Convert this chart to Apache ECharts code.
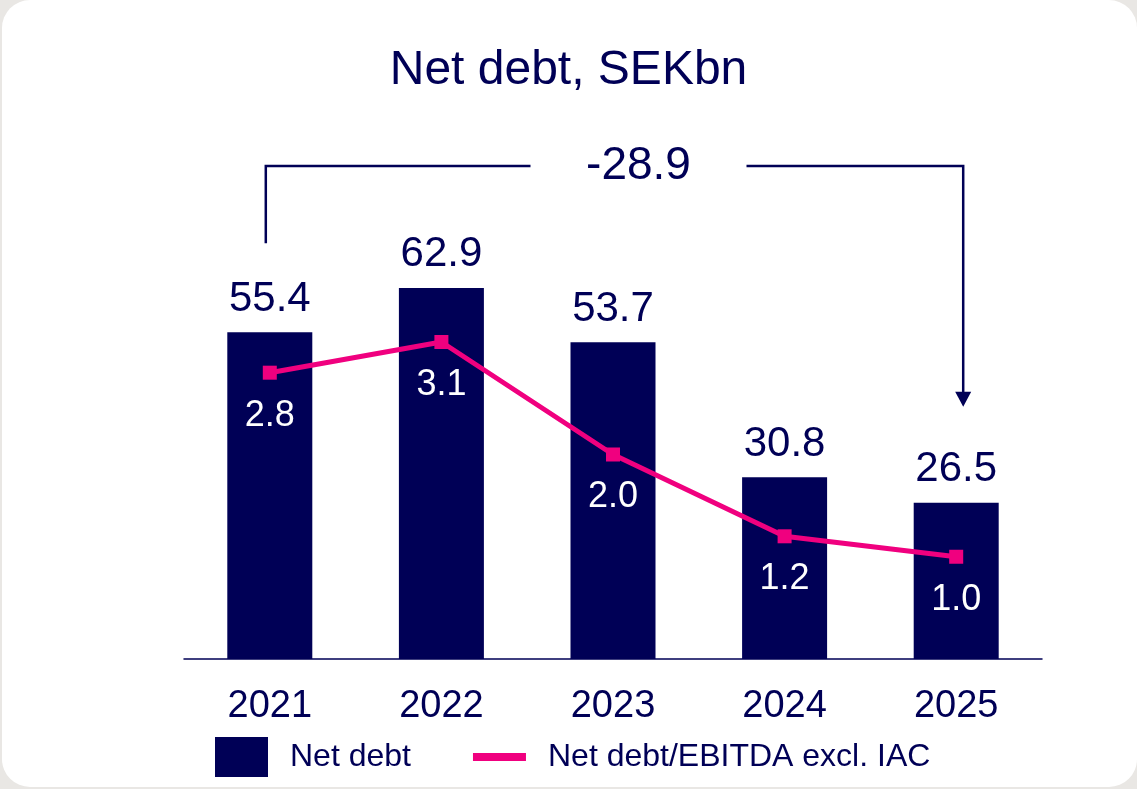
<!DOCTYPE html>
<html lang="en">

<head>
    <meta charset="UTF-8">
    <title>Net debt, SEKbn</title>
    <script src="https://cdn.jsdelivr.net/npm/echarts@6/dist/echarts.min.js"></script>
    <style>
        html, body { margin: 0; padding: 0; background: #e9e7e4; }
        #card {
            position: absolute; left: 2px; top: 0;
            width: 1135px; height: 787px;
            background: #fff; border-radius: 28px; overflow: hidden;
        }
        #main { width: 1137px; height: 789px; margin-left: -2px; }
    </style>
</head>

<body>
    <div id="card"><div id="main"></div></div>
    <script>
        // data
        var years = ['2021', '2022', '2023', '2024', '2025'];
        var netDebt = [55.4, 62.9, 53.7, 30.8, 26.5];
        var debtRatio = [2.8, 3.1, 2.0, 1.2, 1.0];

        var NAVY = '#000056';
        var PINK = '#f0007f';
        var FONT = '"Liberation Sans", Arial, sans-serif';

        var myChart = echarts.init(document.getElementById('main'));

        var option = {
            animation: false,
            title: {
                text: 'Net debt, SEKbn',
                left: 'center',
                top: 42,
                textStyle: { color: NAVY, fontSize: 48, fontWeight: 'normal', fontFamily: FONT }
            },
            legend: {
                top: 737,
                left: 215,
                padding: 0,
                itemWidth: 53,
                itemHeight: 40,
                itemGap: 58,
                textStyle: { color: NAVY, fontSize: 32, fontFamily: FONT, padding: [0, 0, 0, 17] },
                lineStyle: { width: 8 },
                data: [
                    { name: 'Net debt', icon: 'rect' },
                    { name: 'Net debt/EBITDA excl. IAC', itemStyle: { opacity: 0 } }
                ]
            },
            grid: { left: 184, right: 95, top: 69, bottom: 130 },
            xAxis: {
                type: 'category',
                data: years,
                axisTick: { show: false },
                axisLine: { lineStyle: { color: NAVY, width: 1.5 } },
                axisLabel: { color: NAVY, fontSize: 38, fontFamily: FONT, margin: 29 }
            },
            yAxis: [
                { type: 'value', min: 0, max: 100, show: false, splitLine: { show: false } },
                { type: 'value', min: 0, max: 5.77, show: false, splitLine: { show: false } }
            ],
            series: [{
                name: 'Net debt',
                type: 'bar',
                data: netDebt,
                barWidth: 85,
                itemStyle: { color: NAVY },
                label: {
                    show: true, position: 'top', distance: 12,
                    color: NAVY, fontSize: 42, fontFamily: FONT,
                    formatter: function (p) { return p.value.toFixed(1); }
                }
            }, {
                name: 'Net debt/EBITDA excl. IAC',
                type: 'line',
                yAxisIndex: 1,
                data: debtRatio,
                symbol: 'rect',
                symbolSize: 14,
                lineStyle: { color: PINK, width: 5 },
                itemStyle: { color: PINK },
                label: {
                    show: true, position: 'bottom', distance: 18,
                    color: '#fff', fontSize: 36, fontFamily: FONT,
                    formatter: function (p) { return p.value.toFixed(1); }
                }
            }]
        };
        myChart.setOption(option);

        // bracket annotation: change from first to last year
        var first = myChart.convertToPixel({ seriesIndex: 0 }, [0, netDebt[0]]);
        var last = myChart.convertToPixel({ seriesIndex: 0 }, [years.length - 1, netDebt[netDebt.length - 1]]);
        var xl = first[0] - 4, xr = last[0] + 7;
        var topY = 166;
        var leftBottom = first[1] - 89;
        var tipY = last[1] - 96;
        var midX = (xl + xr) / 2 + 24;
        var gap = 108;
        var change = (netDebt[netDebt.length - 1] - netDebt[0]).toFixed(1);
        var ls = { stroke: NAVY, lineWidth: 2.5 };

        myChart.setOption({
            graphic: [
                { type: 'polyline', shape: { points: [[xl, leftBottom], [xl, topY], [midX - gap, topY]] }, style: ls },
                { type: 'polyline', shape: { points: [[midX + gap, topY], [xr, topY], [xr, tipY - 12]] }, style: ls },
                { type: 'polygon', shape: { points: [[xr - 8, tipY - 15], [xr + 8, tipY - 15], [xr, tipY]] }, style: { fill: NAVY } },
                {
                    type: 'text', x: midX, y: topY,
                    style: {
                        text: change, fill: NAVY, fontSize: 46, fontFamily: FONT,
                        align: 'center', verticalAlign: 'middle'
                    }
                }
            ]
        });
    </script>
</body>

</html>
